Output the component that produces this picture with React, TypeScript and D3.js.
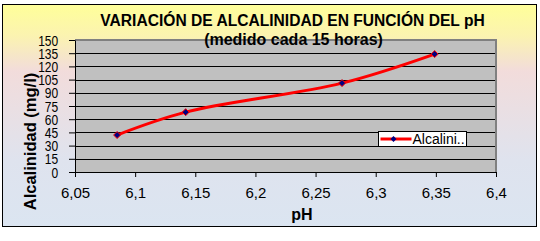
import React, { useEffect, useRef } from "react";
import * as d3 from "d3";

// chart data
const phValues = [6.085, 6.142, 6.272, 6.349];
const alkValues = [42, 68, 101, 134];
const xTicks = [6.05, 6.1, 6.15, 6.2, 6.25, 6.3, 6.35, 6.4];
const yTicks = [0, 15, 30, 45, 60, 75, 90, 105, 120, 135, 150];
const seriesName = "Alcalini..";

const App: React.FC = () => {
  const svgRef = useRef<SVGSVGElement | null>(null);
  const width = 540;
  const height = 241;
  const plot = { left: 75, right: 496, top: 40, bottom: 172 };
  const font = "Arial, 'Liberation Sans', sans-serif";
  const fmt = (v: number) => String(v).replace(".", ",");

  useEffect(() => {
    if (!svgRef.current) return;
    const svg = d3.select(svgRef.current);
    svg.selectAll("*").remove();

    // background gradient of the chart area
    const defs = svg.append("defs");
    const grad = defs
      .append("linearGradient")
      .attr("id", "bg")
      .attr("x1", 0)
      .attr("y1", 0)
      .attr("x2", 0)
      .attr("y2", 1);
    grad.append("stop").attr("offset", "0%").attr("stop-color", "#ffff99");
    grad.append("stop").attr("offset", "14%").attr("stop-color", "#fbf3b0");
    grad.append("stop").attr("offset", "30%").attr("stop-color", "#f2dcdb");
    grad.append("stop").attr("offset", "70%").attr("stop-color", "#dfe3ee");
    grad.append("stop").attr("offset", "100%").attr("stop-color", "#dbe5f1");

    svg
      .append("rect")
      .attr("x", 2.5)
      .attr("y", 4.5)
      .attr("width", 534)
      .attr("height", 222)
      .attr("fill", "url(#bg)")
      .attr("stroke", "#000")
      .attr("stroke-width", 1);

    const x = d3.scaleLinear().domain([6.05, 6.4]).range([plot.left, plot.right]);
    const y = d3.scaleLinear().domain([0, 150]).range([plot.bottom, plot.top]);

    // plot area
    svg
      .append("rect")
      .attr("x", plot.left)
      .attr("y", plot.top)
      .attr("width", plot.right - plot.left)
      .attr("height", plot.bottom - plot.top)
      .attr("fill", "#c0c0c0");
    svg
      .append("path")
      .attr("d", `M${plot.left},${plot.top}H${plot.right}V${plot.bottom}`)
      .attr("fill", "none")
      .attr("stroke", "#808080")
      .attr("stroke-width", 2);

    // gridlines
    svg
      .append("g")
      .selectAll("line")
      .data(yTicks.slice(1, -1))
      .enter()
      .append("line")
      .attr("x1", plot.left)
      .attr("x2", plot.right - 1)
      .attr("y1", (d) => Math.round(y(d)) + 0.5)
      .attr("y2", (d) => Math.round(y(d)) + 0.5)
      .attr("stroke", "#000")
      .attr("stroke-width", 1);

    // y axis (labels are narrow and tall like in the reference)
    const yAxis = svg
      .append("g")
      .attr("transform", `translate(${plot.left},0)`)
      .call(
        d3
          .axisLeft(y)
          .tickValues(yTicks)
          .tickSize(6)
          .tickSizeOuter(0)
          .tickFormat((d) => fmt(d as number))
      );
    yAxis.select(".domain").attr("stroke", "#000");
    yAxis.selectAll("line").attr("stroke", "#000");
    yAxis
      .selectAll("text")
      .attr("x", -19.5)
      .attr("dy", "0.36em")
      .attr("font-family", font)
      .attr("font-size", 14)
      .attr("transform", "scale(0.86,1)")
      .attr("fill", "#000");

    // x axis
    const xAxis = svg
      .append("g")
      .attr("transform", `translate(0,${plot.bottom})`)
      .call(
        d3
          .axisBottom(x)
          .tickValues(xTicks)
          .tickSize(5)
          .tickSizeOuter(0)
          .tickFormat((d) => fmt(d as number))
      );
    xAxis.select(".domain").attr("stroke", "#000");
    xAxis.selectAll("line").attr("stroke", "#000");
    xAxis
      .selectAll("text")
      .attr("y", 26)
      .attr("dy", 0)
      .attr("font-family", font)
      .attr("font-size", 15)
      .attr("fill", "#000");

    // series line
    const pts = phValues.map((p, i) => [x(p), y(alkValues[i])] as [number, number]);
    svg
      .append("path")
      .datum(pts)
      .attr("d", d3.line().curve(d3.curveCatmullRom.alpha(0.5)))
      .attr("fill", "none")
      .attr("stroke", "#ff0000")
      .attr("stroke-width", 3);

    const diamond = (cx: number, cy: number, r: number) =>
      `M${cx},${cy - r}L${cx + r},${cy}L${cx},${cy + r}L${cx - r},${cy}Z`;

    svg
      .append("g")
      .selectAll("path")
      .data(pts)
      .enter()
      .append("path")
      .attr("d", (d) => diamond(d[0], d[1], 3.5))
      .attr("fill", "#000080")
      .attr("stroke", "#ff0000")
      .attr("stroke-width", 1);

    // legend
    const lg = svg.append("g").attr("transform", "translate(378.5,131.5)");
    lg.append("rect")
      .attr("width", 88)
      .attr("height", 15)
      .attr("fill", "#fff")
      .attr("stroke", "#000");
    lg.append("line")
      .attr("x1", 2)
      .attr("x2", 33)
      .attr("y1", 7.5)
      .attr("y2", 7.5)
      .attr("stroke", "#ff0000")
      .attr("stroke-width", 3);
    lg.append("path").attr("d", diamond(15, 7.5, 3)).attr("fill", "#000080");
    lg.append("text")
      .attr("x", 34)
      .attr("y", 12.5)
      .attr("font-family", font)
      .attr("font-size", 14)
      .text(seriesName);

    // titles
    svg
      .append("text")
      .attr("x", 292.5)
      .attr("y", 26)
      .attr("text-anchor", "middle")
      .attr("font-family", font)
      .attr("font-size", 15.6)
      .attr("font-weight", "bold")
      .text("VARIACIÓN DE ALCALINIDAD EN FUNCIÓN DEL pH");
    svg
      .append("text")
      .attr("x", 293.5)
      .attr("y", 45)
      .attr("text-anchor", "middle")
      .attr("font-family", font)
      .attr("font-size", 16)
      .attr("font-weight", "bold")
      .text("(medido cada 15 horas)");
    svg
      .append("text")
      .attr("transform", `translate(36,141.5) rotate(-90)`)
      .attr("text-anchor", "middle")
      .attr("font-family", font)
      .attr("font-size", 16.5)
      .attr("font-weight", "bold")
      .text("Alcalinidad (mg/l)");
    svg
      .append("text")
      .attr("x", 302)
      .attr("y", 220)
      .attr("text-anchor", "middle")
      .attr("font-family", font)
      .attr("font-size", 16)
      .attr("font-weight", "bold")
      .text("pH");
  }, []);

  return (
    <svg
      ref={svgRef}
      width={width}
      height={height}
      style={{ position: "absolute", left: 0, top: 0, background: "#fff" }}
    ></svg>
  );
};

export default App;
